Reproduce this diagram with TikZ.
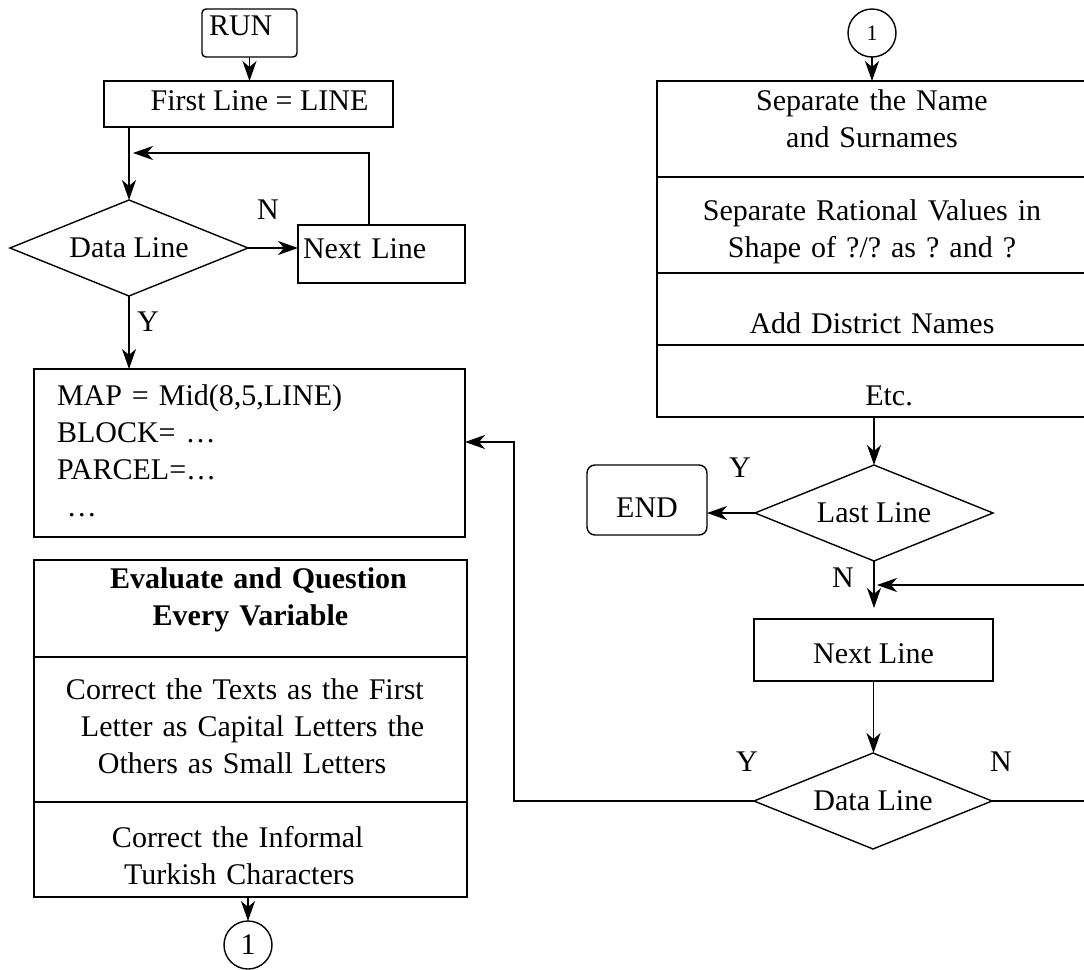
\documentclass[tikz,border=0pt]{standalone}
\usepackage{fontspec}
\setmainfont{Liberation Serif}
\frenchspacing
\usetikzlibrary{shapes.geometric, positioning, arrows.meta}
\tikzset{every node/.style={font=\fontsize{15pt}{18.5pt}\selectfont},
         box/.style={draw, rectangle, inner sep=0pt, outer sep=0pt},
         term/.style={draw, rectangle, rounded corners=2pt, inner sep=0pt, outer sep=0pt},
         decision/.style={draw, diamond, aspect=2.45, inner sep=0pt, outer sep=0pt, minimum width=119pt, minimum height=48pt},
         conn/.style={draw, circle, inner sep=0pt, outer sep=0pt, minimum size=24pt},
         yn/.style={inner sep=0pt},
        }

\begin{document}
\begin{tikzpicture}[x=0.5pt, y=-0.5pt, line width=0.7pt, >={Stealth[length=10pt,width=7pt,inset=3pt]}]
        \useasboundingbox (0,0) rectangle (1084,970);
        \clip (0,0) rectangle (1084,970);

        % left column
        \node[term, text width=40.5pt, inner xsep=3.5pt, align=left, text height=13pt, text depth=11pt](run)at(249.5,33){RUN};
        \node[box, minimum width=144.5pt, text height=14.5pt, text depth=8.5pt](first)at(248.5,104){\hspace*{11pt}First Line = LINE};
        \node[decision](data)at(129,248){Data Line};
        \node[box, text width=78.5pt, inner xsep=2.5pt, align=left, text height=16.5pt, text depth=12.5pt](next)at(381.5,254){Next Line};
        \node[yn](n1)at(268,210){N};
        \node[yn](y1)at(148,322){Y};
        \coordinate(loop)at(369,153);

        \draw[->](run.south)--(run.south |- first.north);
        \draw[->](data.north |- first.south)--(data.north);
        \draw[->](data.east)--(data.east -| next.west);
        \draw[->, shorten >=2pt](next.north -| loop)--(loop)--(loop -| data.north);

        \node[box, text width=192.5pt, inner xsep=11.5pt, align=left, text height=18pt, text depth=66pt](map)at(249.5,453){MAP = Mid(8,5,LINE)\\BLOCK= …\\PARCEL=…\\\hspace*{5pt}…};
        \draw[->](data.south)--(data.south |- map.north);

        \node[box, text width=216.5pt, align=center, text height=14pt, text depth=34.5pt, font=\fontsize{15pt}{18.5pt}\selectfont\bfseries](eval1)at(250.5,608.5){\hspace*{8pt}Evaluate and Question\\Every Variable};
        \node[box, text width=184.5pt, inner xsep=16pt, align=left, text height=21pt, text depth=51.5pt, below=0pt of eval1](eval2){Correct the Texts as the First\\\hspace*{7.5pt}Letter as Capital Letters the\\\hspace*{16pt}Others as Small Letters};
        \node[box, text width=138.5pt, inner xsep=39pt, align=left, text height=22.5pt, text depth=25pt, below=0pt of eval2](eval3){Correct the Informal\\\hspace*{6pt}Turkish Characters};
        \node[conn](conb)at(248,945){1};
        \draw[->](conb.north |- eval3.south)--(conb.north);

        % right column
        \node[conn, font=\fontsize{11pt}{13pt}\selectfont](cont)at(872,33){1};
        \node[box, text width=215pt, align=center, text height=14.5pt, text depth=33.5pt](sep1)at(872,129){Separate the Name\\and Surnames};
        \node[box, text width=215pt, align=center, text height=21.5pt, text depth=26.5pt, below=0pt of sep1](sep2){Separate Rational Values in\\Shape of ?/? as ? and ?};
        \node[box, text width=215pt, align=center, text height=30pt, text depth=6pt, below=0pt of sep2](sep3){Add District Names};
        \node[box, text width=215pt, align=center, text height=30pt, text depth=6pt, below=0pt of sep3](sep4){\hspace*{17pt}Etc.};
        \draw[->](cont.south)--(cont.south |- sep1.north);

        \node[decision](last)at(874,513){Last Line};
        \node[term, rounded corners=4pt, minimum width=60pt, text height=26pt, text depth=9pt](theend)at(647,500){END};
        \node[yn](y2)at(740,468){Y};
        \node[yn](n2)at(843,578){N};
        \draw[->](last.north |- sep4.south)--(last.north);
        \draw[->](last.west)--(last.west -| theend.east);

        \node[box, minimum width=119.5pt, text height=22pt, text depth=9pt](nextr)at(873.5,650){Next Line};
        \node[decision](datar)at(873,801){Data Line};
        \node[yn](y3)at(747,762){Y};
        \node[yn](n3)at(1001,762){N};
        \coordinate(back)at(1100,585);
        \coordinate(ret)at(514,442);
        \draw[->, shorten >=5.5pt](last.south)--(last.south |- nextr.north);
        \draw[->](nextr.south)--(nextr.south |- datar.north);
        \draw[->, shorten >=1.5pt](datar.east)--(datar.east -| back)--(back)--(back -| last.south);
        \draw[->](datar.west)--(datar.west -| ret)--(ret)--(ret -| map.east);
\end{tikzpicture}
\end{document}
